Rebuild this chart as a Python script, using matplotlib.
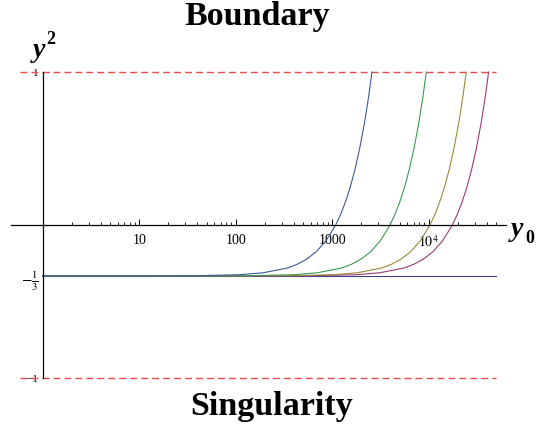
import matplotlib
matplotlib.use("Agg")
import matplotlib.pyplot as plt

# series (x = y0, log scale; y = y^2)
flat_x = [1, 50000]
flat_y = [-1/3, -1/3]

blue_x = [1, 10.8, 34.3, 108, 193, 343, 432, 543, 684, 861, 1084, 1216, 1365, 1532, 1718, 1927, 2163, 2372, 2577]
blue_y = [-0.333, -0.333, -0.332, -0.325, -0.312, -0.281, -0.257, -0.223, -0.174, -0.103, 0.0, 0.067, 0.148, 0.246, 0.363, 0.504, 0.673, 0.833, 1.0]

green_x = [1, 39.6, 125, 396, 705, 1253, 1578, 1986, 2501, 3148, 3963, 4447, 4989, 5600, 6281, 7046, 7906, 8671, 9420]
green_y = [-0.333, -0.333, -0.332, -0.325, -0.312, -0.281, -0.257, -0.223, -0.174, -0.103, 0.0, 0.067, 0.148, 0.246, 0.363, 0.504, 0.673, 0.833, 1.0]

olive_x = [1, 103, 325, 1028, 1828, 3251, 4093, 5152, 6487, 8166, 10280, 11530, 12940, 14530, 16290, 18280, 20510, 22490, 24430]
olive_y = [-0.333, -0.333, -0.332, -0.325, -0.312, -0.281, -0.257, -0.223, -0.174, -0.103, 0.0, 0.067, 0.148, 0.246, 0.363, 0.504, 0.673, 0.833, 1.0]

magenta_x = [1, 175, 555, 1754, 3119, 5546, 6983, 8791, 11070, 13930, 17540, 19680, 22080, 24780, 27800, 31190, 34990, 38380, 41690]
magenta_y = [-0.333, -0.333, -0.332, -0.325, -0.312, -0.281, -0.257, -0.223, -0.174, -0.103, 0.0, 0.067, 0.148, 0.246, 0.363, 0.504, 0.673, 0.833, 1.0]

bound_x = [0.58, 50000]
upper_y = [1, 1]
lower_y = [-1, -1]

xtick_vals = [10, 100, 1000, 10000]
xtick_text = ["10", "100", "1000", r"$10^4$"]
ytick_vals = [1, -1/3, -1]
ytick_text = ["1", r"$-\frac{1}{3}$", "\u22121"]

plt.rcParams["font.family"] = ["Liberation Serif", "DejaVu Serif"]
plt.rcParams["mathtext.fontset"] = "stix"

W, H = 536, 427
fig = plt.figure(figsize=(W / 100, H / 100), dpi=100)
ax = fig.add_axes([0, 0, 1, 1])
ax.set_xscale("log")
ax.set_xlim(10 ** (-42.8 / 96.5), 10 ** ((W - 42.8) / 96.5))
ax.set_ylim((226 - H) / 153, 226 / 153)
ax.patch.set_alpha(0)

red = "#ee4a4a"
ax.plot(bound_x, upper_y, color=red, lw=1.0, dashes=(5, 2.9))
ax.plot(bound_x, lower_y, color=red, lw=1.0, dashes=(5, 2.9))

c1 = (0.2472, 0.24, 0.6)
c2 = (0.6, 0.24, 0.442893)
c3 = (0.6, 0.547014, 0.24)
c4 = (0.24, 0.6, 0.33692)
c5 = (0.24, 0.353173, 0.6)
ax.plot(flat_x, flat_y, color=c1, lw=0.8)
ax.plot(magenta_x, magenta_y, color=c2, lw=0.8)
ax.plot(olive_x, olive_y, color=c3, lw=0.8)
ax.plot(green_x, green_y, color=c4, lw=0.8)
ax.plot(blue_x, blue_y, color=c5, lw=0.8)

for s in ["top", "right"]:
    ax.spines[s].set_visible(False)
ax.spines["left"].set_position(("data", 1))
ax.spines["left"].set_bounds(-1, 1)
ax.spines["bottom"].set_position(("data", 0))
ax.spines["bottom"].set_bounds(10 ** ((11 - 42.8) / 96.5), 10 ** ((506 - 42.8) / 96.5))
for s in ["left", "bottom"]:
    ax.spines[s].set_linewidth(0.9)

minor = [m * 10 ** e for e in range(0, 5) for m in range(2, 10) if m * 10 ** e <= 50000]
ax.set_xticks(xtick_vals)
ax.set_xticklabels(xtick_text)
ax.set_xticks(minor, minor=True)
ax.xaxis.set_minor_formatter(matplotlib.ticker.NullFormatter())
ax.tick_params(axis="x", which="major", direction="in", length=4.5, width=0.7, pad=6, labelsize=10)
ax.tick_params(axis="x", which="minor", direction="in", length=2.2, width=0.6)

ax.set_yticks(ytick_vals)
ax.set_yticklabels(ytick_text)
ax.tick_params(axis="y", which="major", direction="in", length=4, width=0.7, pad=3, labelsize=8)
ax.get_yticklabels()[1].set_fontsize(11)
ax.yaxis.set_minor_locator(matplotlib.ticker.NullLocator())


def px(x, y):
    return x / W, 1 - y / H


fig.text(*px(257, 25), "Boundary", fontsize=24.5, fontweight="bold", ha="center", va="baseline")
fig.text(*px(272, 415), "Singularity", fontsize=24.5, fontweight="bold", ha="center", va="baseline")
fig.text(*px(33, 57), "y", fontsize=20, fontweight="bold", fontstyle="italic", va="baseline")
fig.text(*px(46, 44), "2", fontsize=13, fontweight="bold", va="baseline")
fig.text(*px(511, 236), "y", fontsize=20, fontweight="bold", fontstyle="italic", va="baseline")
fig.text(*px(525, 243), "0", fontsize=13, fontweight="bold", va="baseline")

fig.savefig("out.png", dpi=100)
